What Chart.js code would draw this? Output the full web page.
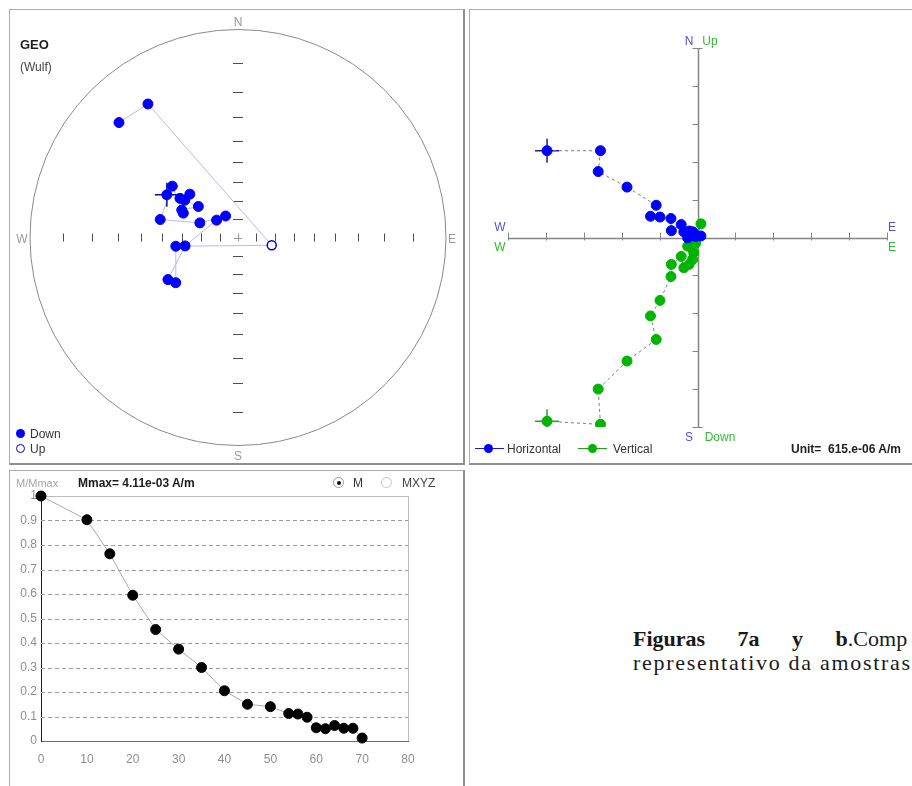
<!DOCTYPE html>
<html lang="es">
<head>
<meta charset="utf-8">
<title>Desmagnetización AF</title>
<script src="https://cdn.jsdelivr.net/npm/chart.js@4.4.1/dist/chart.umd.min.js"></script>
<style>
  html, body { margin: 0; padding: 0; }
  body { width: 912px; height: 786px; overflow: hidden; background: #fff; position: relative;
         font-family: "Liberation Sans", Arial, sans-serif; }
  .panel { position: absolute; box-sizing: border-box; border: 1px solid #adadad;
           border-right: 2px solid #8f8f8f; border-bottom: 2px solid #8f8f8f; }
  canvas { position: absolute; }
  .t { position: absolute; white-space: pre; font-size: 12px; line-height: 14px; transform: translateY(-50%); color: #333; }
  .c { transform: translate(-50%, -50%); }
  .dot { position: absolute; border-radius: 50%; box-sizing: border-box; }
  .hl { position: absolute; height: 1px; }
  .cap { position: absolute; left: 633px; top: 627px; font-family: "Liberation Serif", "Times New Roman", serif;
         font-size: 22px; line-height: 24px; color: #1a1a1a; white-space: nowrap; }
</style>
</head>
<body>
<div class="panel" style="left:9px;top:9px;width:456px;height:456px"></div>
<div class="panel" style="left:469px;top:9px;width:460px;height:456px"></div>
<div class="panel" style="left:9px;top:470px;width:456px;height:330px"></div>

<canvas id="net" width="454" height="454" style="left:10px;top:10px"></canvas>
<canvas id="zij" width="442" height="454" style="left:470px;top:10px"></canvas>
<canvas id="demag" width="454" height="315" style="left:10px;top:471px"></canvas>

<!-- estereograma -->
<div class="t c" style="left:238px;top:22px;color:#9a9a9a">N</div>
<div class="t c" style="left:238px;top:456px;color:#9a9a9a">S</div>
<div class="t c" style="left:22px;top:239px;color:#9a9a9a">W</div>
<div class="t c" style="left:452px;top:239px;color:#9a9a9a">E</div>
<div class="t" style="left:20px;top:45px;font-weight:bold;font-size:13px;color:#1e1e1e">GEO</div>
<div class="t" style="left:20px;top:67px;color:#444">(Wulf)</div>
<div class="dot" style="left:16px;top:429px;width:9px;height:9px;background:#0000ff"></div>
<div class="t" style="left:30px;top:434px">Down</div>
<div class="dot" style="left:16px;top:444px;width:9px;height:9px;border:1.5px solid #0000c8;background:#fff"></div>
<div class="t" style="left:30px;top:449px">Up</div>

<!-- Zijderveld -->
<div class="t c" style="left:689px;top:41px;color:#5050d4">N</div>
<div class="t c" style="left:710px;top:41px;color:#34b834">Up</div>
<div class="t c" style="left:689px;top:437px;color:#5050d4">S</div>
<div class="t c" style="left:720px;top:437px;color:#34b834">Down</div>
<div class="t c" style="left:500px;top:227px;color:#5050d4">W</div>
<div class="t c" style="left:500px;top:247px;color:#34b834">W</div>
<div class="t c" style="left:892px;top:227px;color:#5050d4">E</div>
<div class="t c" style="left:892px;top:247px;color:#34b834">E</div>
<div class="hl" style="left:475px;top:448px;width:29px;background:#1a1ae0"></div>
<div class="dot" style="left:484px;top:444px;width:9px;height:9px;background:#0000ff"></div>
<div class="t" style="left:507px;top:449px">Horizontal</div>
<div class="hl" style="left:578px;top:448px;width:29px;background:#1f9f1f"></div>
<div class="dot" style="left:588px;top:444px;width:9px;height:9px;background:#00b400"></div>
<div class="t" style="left:613px;top:449px">Vertical</div>
<div class="t" style="left:791px;top:449px;font-weight:bold;color:#1e1e1e">Unit=  615.e-06 A/m</div>

<!-- intensidad -->
<div class="t" style="left:16px;top:483px;font-size:11px;color:#a6a6a6">M/Mmax</div>
<div class="t" style="left:78px;top:483px;font-weight:bold;color:#1a1a1a">Mmax= 4.11e-03 A/m</div>
<div class="dot" style="left:333px;top:477px;width:11px;height:11px;border:1px solid #9a9a9a;background:#fff"></div>
<div class="dot" style="left:336.5px;top:480.5px;width:4px;height:4px;background:#111"></div>
<div class="t" style="left:353px;top:483px">M</div>
<div class="dot" style="left:381px;top:477px;width:11px;height:11px;border:1px solid #c4c4c4;background:#fff"></div>
<div class="t" style="left:402px;top:483px;color:#444">MXYZ</div>

<div class="cap"><span style="word-spacing:27px"><b>Figuras 7a y b</b>.Comp</span><br><span style="letter-spacing:1.7px">representativo da amostras</span></div>

<script>
Chart.defaults.font.family = '"Liberation Sans", Arial, sans-serif'

// pasos de desmagnetizacion AF (mT)
const steps = [0, 10, 15, 20, 25, 30, 35, 40, 45, 50, 54, 56, 58, 60, 62, 64, 66, 68, 70]

// estereograma de Wulff: declinacion e inclinacion de cada paso
const decl = [301, 312, 304, 305, 308, 296, 294, 308, 283, 291, 330, 309, 261, 239, 234, 262, 103, 326, 314]
const incl = [46.5, 55.4, 52.8, 55.3, 62.8, 56.5, 57.9, 46.3, 48, 67.8, 76.4, 74.9, 61.1, 47.1, 49.4, 56.4, -71.1, 14.5, 13]

// Zijderveld, en unidades de 615e-06 A/m
const east  = [-3.97, -2.56, -2.62, -1.86, -1.09, -1.24, -0.99, -0.70, -0.69, -0.43, -0.36, -0.22, -0.13, -0.26, -0.15, -0.10, -0.09, -0.05, 0.09]
const north = [2.29, 2.29, 1.74, 1.33, 0.85, 0.56, 0.54, 0.50, 0.18, 0.34, 0.15, 0.17, 0.15, -0.01, 0.05, 0.12, 0.08, 0.03, 0.04]
const up    = [-4.85, -4.93, -4.00, -3.26, -2.69, -2.07, -1.66, -1.03, -0.71, -0.50, -0.80, -0.71, -0.58, -0.23, -0.27, -0.40, 0.01, -0.15, 0.36]

// intensidad normalizada M/Mmax
const mRatio = [1, 0.903, 0.764, 0.595, 0.455, 0.375, 0.3, 0.205, 0.15, 0.14, 0.112, 0.11, 0.097, 0.054, 0.05, 0.063, 0.052, 0.052, 0.012]

const netTicks = [10, 20, 30, 40, 50, 60, 70, 80]
const zijTicks = [-5, -4, -3, -2, -1, 1, 2, 3, 4, 5]

const rad = Math.PI / 180
function wulff(d, i) {
    const r = Math.tan((90 - Math.abs(i)) / 2 * rad)
    return { x: r * Math.sin(d * rad), y: r * Math.cos(d * rad) }
}

const noUi = { legend: { display: false }, tooltip: { enabled: false } }

// circulo y marcas de la red
const netPlugin = {
    id: 'netPlugin',
    beforeDatasetsDraw(chart) {
        const { ctx, scales: { x, y } } = chart
        const cx = x.getPixelForValue(0)
        const cy = y.getPixelForValue(0)
        const R = x.getPixelForValue(1) - cx
        ctx.save()
        ctx.strokeStyle = '#8a8a8a'
        ctx.lineWidth = 1
        ctx.beginPath()
        ctx.arc(cx, cy, R, 0, Math.PI * 2)
        ctx.stroke()
        ctx.strokeStyle = '#4e4e4e'
        netTicks.forEach(inc => {
            const r = R * Math.tan((90 - inc) / 2 * rad)
            ;[-1, 1].forEach(s => {
                const py = Math.round(cy + s * r) + 0.5
                const px = Math.round(cx + s * r) + 0.5
                ctx.beginPath()
                ctx.moveTo(cx - 5, py); ctx.lineTo(cx + 5, py)
                ctx.moveTo(px, cy - 4); ctx.lineTo(px, cy + 4)
                ctx.stroke()
            })
        })
        ctx.strokeStyle = '#9a9a9a'
        ctx.beginPath()
        ctx.moveTo(cx - 4, Math.round(cy) + 0.5); ctx.lineTo(cx + 4, Math.round(cy) + 0.5)
        ctx.moveTo(Math.round(cx) + 0.5, cy - 4); ctx.lineTo(Math.round(cx) + 0.5, cy + 4)
        ctx.stroke()
        ctx.restore()
    }
}

function fun_net() {
    const pts = steps.map((s, k) => wulff(decl[k], incl[k]))
    new Chart(document.getElementById('net'), {
        type: 'scatter',
        data: {
            datasets: [
                { data: pts.filter((p, k) => incl[k] >= 0), pointRadius: 5, pointBackgroundColor: '#0000ff', pointBorderColor: '#0000ff', order: 1 },
                { data: pts.filter((p, k) => incl[k] < 0), pointRadius: 4.5, pointBackgroundColor: '#ffffff', pointBorderColor: '#0000c8', pointBorderWidth: 1.5, order: 1 },
                { data: [pts[0]], pointStyle: 'cross', pointRadius: 12, pointBorderColor: '#10108a', pointBorderWidth: 1.5, order: 2 },
                { data: pts, showLine: true, borderColor: '#b9b9ee', borderWidth: 1, pointRadius: 0, order: 3 }
            ]
        },
        options: {
            responsive: false, animation: false, events: [],
            layout: { padding: { left: 20, right: 18, top: 19.5, bottom: 18.5 } },
            plugins: noUi,
            scales: {
                x: { type: 'linear', min: -1, max: 1, display: false },
                y: { type: 'linear', min: -1, max: 1, display: false }
            }
        },
        plugins: [netPlugin]
    })
}

// ejes del diagrama de Zijderveld
const zijAxes = {
    id: 'zijAxes',
    beforeDatasetsDraw(chart) {
        const { ctx, scales: { x, y } } = chart
        const x0 = Math.round(x.getPixelForValue(0)) + 0.5
        const y0 = Math.round(y.getPixelForValue(0)) + 0.5
        ctx.save()
        ctx.strokeStyle = '#858585'
        ctx.lineWidth = 1.5
        ctx.beginPath()
        ctx.moveTo(x.getPixelForValue(-5), y0); ctx.lineTo(x.getPixelForValue(5), y0)
        ctx.moveTo(x0, y.getPixelForValue(5)); ctx.lineTo(x0, y.getPixelForValue(-5))
        ctx.stroke()
        ctx.lineWidth = 1
        zijTicks.forEach(v => {
            const px = Math.round(x.getPixelForValue(v)) + 0.5
            const py = Math.round(y.getPixelForValue(v)) + 0.5
            const end = Math.abs(v) === 5
            ctx.beginPath()
            ctx.moveTo(px, y0 - 6); ctx.lineTo(px, y0 + 2)
            ctx.moveTo(x0 - 6, py); ctx.lineTo(x0 + (end ? 4 : 0), py)
            ctx.stroke()
        })
        ctx.restore()
    }
}

function fun_zij() {
    const horiz = steps.map((s, k) => ({ x: east[k], y: north[k] }))
    const vert = steps.map((s, k) => ({ x: east[k], y: up[k] }))
    const lineStyle = { showLine: true, borderColor: '#7d7d7d', borderWidth: 1, borderDash: [3, 3], pointRadius: 5, pointBorderWidth: 1 }
    new Chart(document.getElementById('zij'), {
        type: 'scatter',
        data: {
            datasets: [
                Object.assign({ data: horiz, pointBackgroundColor: '#0000ff', pointBorderColor: '#0000ff', order: 1 }, lineStyle),
                Object.assign({ data: vert, pointBackgroundColor: '#00b400', pointBorderColor: '#00b400', order: 2 }, lineStyle),
                { data: [horiz[0]], pointStyle: 'cross', pointRadius: 12, pointBorderColor: '#1c1c90', pointBorderWidth: 1.5, order: 3 },
                { data: [vert[0]], pointStyle: 'cross', pointRadius: 12, pointBorderColor: '#2c9c2c', pointBorderWidth: 1.5, order: 3 }
            ]
        },
        options: {
            responsive: false, animation: false, events: [],
            layout: { padding: { left: 38, right: 25, top: 38, bottom: 37 } },
            plugins: noUi,
            scales: {
                x: { type: 'linear', min: -5, max: 5, display: false },
                y: { type: 'linear', min: -5, max: 5, display: false }
            }
        },
        plugins: [zijAxes]
    })
}

// rejilla punteada y marco del grafico de intensidad
const dashGrid = {
    id: 'dashGrid',
    beforeDatasetsDraw(chart) {
        const { ctx, chartArea: a, scales: { y } } = chart
        ctx.save()
        ctx.lineWidth = 1
        ctx.strokeStyle = '#9e9e9e'
        ctx.setLineDash([4, 3])
        y.ticks.forEach(t => {
            if (t.value <= 0 || t.value >= 1) return
            const py = Math.round(y.getPixelForValue(t.value)) + 0.5
            ctx.beginPath()
            ctx.moveTo(a.left, py); ctx.lineTo(a.right, py)
            ctx.stroke()
        })
        ctx.setLineDash([])
        ctx.strokeStyle = '#bcbcbc'
        ctx.beginPath()
        ctx.moveTo(a.left, Math.round(a.top) + 0.5)
        ctx.lineTo(Math.round(a.right) + 0.5, Math.round(a.top) + 0.5)
        ctx.lineTo(Math.round(a.right) + 0.5, a.bottom)
        ctx.stroke()
        ctx.restore()
    }
}

function fun_demag() {
    new Chart(document.getElementById('demag'), {
        type: 'scatter',
        data: {
            datasets: [{
                data: steps.map((s, k) => ({ x: s, y: mRatio[k] })),
                showLine: true, borderColor: '#a9a9a9', borderWidth: 1,
                pointRadius: 5, pointBackgroundColor: '#000', pointBorderColor: '#000', clip: false
            }]
        },
        options: {
            responsive: false, animation: false, events: [],
            layout: { padding: { left: 0, top: 25, right: 56, bottom: 0 } },
            plugins: noUi,
            scales: {
                x: {
                    type: 'linear', min: 0, max: 80,
                    afterFit: s => { s.height = 45 },
                    grid: { display: false, drawTicks: false },
                    border: { color: '#6a6a6a' },
                    ticks: { stepSize: 10, padding: 11, color: '#8e8e8e', font: { size: 12 } }
                },
                y: {
                    type: 'linear', min: 0, max: 1,
                    afterFit: s => { s.width = 31 },
                    grid: { display: false, drawTicks: false },
                    border: { color: '#1e1e1e' },
                    ticks: { stepSize: 0.1, padding: 4, color: '#8e8e8e', font: { size: 12 }, callback: v => Math.round(v * 10) / 10 }
                }
            }
        },
        plugins: [dashGrid]
    })
}

fun_net()
fun_zij()
fun_demag()
</script>
</body>
</html>
